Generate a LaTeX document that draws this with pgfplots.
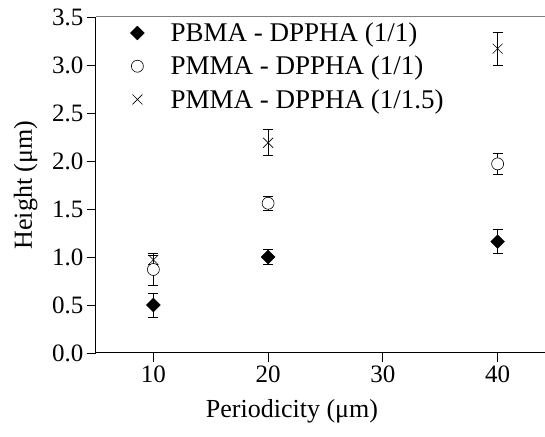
\documentclass[border=0pt]{standalone}
\usepackage{fontspec}
\setmainfont{Liberation Serif}
\usepackage{pgfplots}
\pgfplotsset{compat=1.18}
\pgfplotsset{myleg/.style={legend image code/.code={%
    \path (0pt,-3pt) (41pt,3pt);
    \draw[mark repeat=2, mark phase=2, ##1] plot coordinates {(0pt,0pt) (10pt,0pt) (41pt,0pt)};}}}
\begin{document}
\begin{tikzpicture}
\begin{axis}[
  scale only axis,
  width=459pt, height=336pt,
  xmin=5, xmax=45, ymin=0, ymax=3.5,
  xtick={10,20,30,40},
  ytick={0,0.5,1,1.5,2,2.5,3,3.5},
  yticklabel style={/pgf/number format/.cd, fixed, fixed zerofill, precision=1},
  /pgf/number format/assume math mode=true,
  axis x line*=bottom, axis y line*=left,
  axis line style={-, line width=1pt},
  tick align=outside, major tick length=9pt,
  tick style={line width=0.9pt, black},
  ticklabel style={font=\fontsize{25}{25}\selectfont},
  xlabel={Periodicity (μm)}, ylabel={Height (μm)},
  label style={font=\fontsize{26}{26}\selectfont},
  xlabel style={at={(rel axis cs:0.427,0)}, anchor=base, yshift=-65pt},
  ylabel style={at={(rel axis cs:-0.153,0.5)}, anchor=center},
  legend style={at={(rel axis cs:0.061,0.995)}, anchor=north west,
    draw=none, fill=none, font=\fontsize{27}{27}\selectfont,
    row sep=9pt, cells={anchor=west}},
  clip=false,
]
\coordinate (O) at (rel axis cs:0,0);
\coordinate (T) at (rel axis cs:0,1);
\draw[gray, line width=1pt] (rel axis cs:0,1) -- (rel axis cs:1,1);

\addplot[only marks, myleg, mark=square*, mark options={rotate=45, fill=black, draw=black, mark size=4.9pt},
  error bars/.cd, y dir=both, y explicit,
  error bar style={black, line width=0.8pt},
  error mark options={rotate=90, black, mark size=5pt, line width=0.8pt}]
  coordinates {(10,0.50) +- (0,0.125) (20,1.00) +- (0,0.08) (40,1.16) +- (0,0.125)};
\addlegendentry{PBMA - DPPHA (1/1)}

\addplot[only marks, myleg, mark=*, mark options={fill=white, draw=black, mark size=6pt, line width=0.6pt},
  error bars/.cd, y dir=both, y explicit,
  error bar style={black, line width=0.8pt},
  error mark options={rotate=90, black, mark size=5pt, line width=0.8pt}]
  coordinates {(10,0.87) +- (0,0.17) (20,1.56) +- (0,0.072) (40,1.97) +- (0,0.11)};
\addlegendentry{PMMA - DPPHA (1/1)}

\addplot[only marks, myleg, mark=x, mark options={draw=black, mark size=7pt, line width=0.6pt},
  error bars/.cd, y dir=both, y explicit,
  error bar style={black, line width=0.8pt},
  error mark options={rotate=90, black, mark size=5pt, line width=0.8pt}]
  coordinates {(10,0.97) +- (0,0.05) (20,2.19) +- (0,0.135) (40,3.17) +- (0,0.17)};
\addlegendentry{PMMA - DPPHA (1/1.5)}
\end{axis}
\pgfresetboundingbox
\path ([xshift=-96pt,yshift=-84pt]O) rectangle ([xshift=449pt,yshift=17pt]T);
\end{tikzpicture}
\end{document}
